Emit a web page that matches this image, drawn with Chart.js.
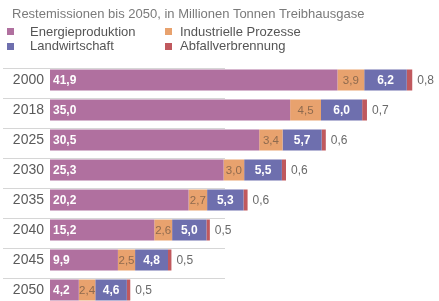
<!DOCTYPE html>
<html><head><meta charset="utf-8">
<script src="https://cdn.jsdelivr.net/npm/chart.js@4/dist/chart.umd.min.js"></script>
<style>
html,body{margin:0;padding:0;width:439px;height:301px;overflow:hidden;background:#fff;font-family:"Liberation Sans",Arial,sans-serif;}
#wrap{position:absolute;left:0;top:0;width:439px;height:310px;}
.t{position:absolute;font-size:13px;line-height:13px;white-space:nowrap;}
.sq{position:absolute;width:7px;height:7px;}
</style></head>
<body>
<div id="wrap"><canvas id="c" width="439" height="310" style="width:439px;height:310px;"></canvas></div>
<div class="t" style="left:12px;top:7px;color:#7a7a7a;">Restemissionen bis 2050, in Millionen Tonnen Treibhausgase</div>
<div id="legend"></div>
<script>
const categories = ["2000","2018","2025","2030","2035","2040","2045","2050"];
const energie = [41.9,35.0,30.5,25.3,20.2,15.2,9.9,4.2];
const industrie = [3.9,4.5,3.4,3.0,2.7,2.6,2.5,2.4];
const landwirtschaft = [6.2,6.0,5.7,5.5,5.3,5.0,4.8,4.6];
const abfall = [0.8,0.7,0.6,0.6,0.6,0.5,0.5,0.5];
const seriesNames = ["Energieproduktion","Industrielle Prozesse","Landwirtschaft","Abfallverbrennung"];
const colors = ["#b0709f","#e8a26e","#6e6fae","#c0595e"];

// legend (HTML)
const legendPos = [[7,28,30,25],[165,28,180,25],[7,43,30,39],[165,43,180,39]];
const lg = document.getElementById('legend');
[0,1,2,3].forEach((si,k)=>{
  const p = legendPos[k];
  const s = document.createElement('div'); s.className='sq';
  s.style.left=p[0]+'px'; s.style.top=p[1]+'px'; s.style.background=colors[si];
  lg.appendChild(s);
  const t = document.createElement('div'); t.className='t';
  t.style.left=p[2]+'px'; t.style.top=p[3]+'px'; t.style.color='#555';
  t.textContent = seriesNames[si];
  lg.appendChild(t);
});

const fmt = v => v.toFixed(1).replace('.', ',');

const sepPlugin = {
  id:'sep',
  beforeDatasetsDraw(chart){
    const ctx = chart.ctx, y = chart.scales.y;
    ctx.save();
    ctx.strokeStyle = '#d6d6d6'; ctx.lineWidth = 1;
    categories.forEach((c,i)=>{
      const py = Math.round(y.getPixelForValue(i) - 12.5) + 0.5;
      ctx.beginPath(); ctx.moveTo(3, py); ctx.lineTo(225, py); ctx.stroke();
    });
    ctx.restore();
  }
};

const labelPlugin = {
  id:'vlabels',
  afterDatasetsDraw(chart){
    const ctx = chart.ctx;
    ctx.save();
    ctx.textBaseline = 'middle';
    chart.data.datasets.forEach((ds,di)=>{
      const meta = chart.getDatasetMeta(di);
      meta.data.forEach((el,i)=>{
        const txt = fmt(ds.data[i]);
        const left = Math.min(el.x, el.base), right = Math.max(el.x, el.base);
        const cy = el.y + 0.5;
        if (di === 0) {
          ctx.font = 'bold 12px "Liberation Sans", Arial, sans-serif';
          ctx.fillStyle = '#ffffff'; ctx.textAlign = 'left';
          ctx.fillText(txt, left + 3, cy);
        } else if (di === 1) {
          ctx.font = '11.5px "Liberation Sans", Arial, sans-serif';
          ctx.fillStyle = '#8e6a4e'; ctx.textAlign = 'center';
          ctx.fillText(txt, (left+right)/2, cy);
        } else if (di === 2) {
          ctx.font = 'bold 12px "Liberation Sans", Arial, sans-serif';
          ctx.fillStyle = '#ffffff'; ctx.textAlign = 'center';
          ctx.fillText(txt, (left+right)/2, cy);
        } else {
          ctx.font = '12px "Liberation Sans", Arial, sans-serif';
          ctx.fillStyle = '#6a6a6a'; ctx.textAlign = 'left';
          ctx.fillText(txt, right + 5, cy);
        }
      });
    });
    ctx.restore();
  }
};

const seriesData = [energie, industrie, landwirtschaft, abfall];
new Chart(document.getElementById('c'), {
  type:'bar',
  data:{
    labels: categories,
    datasets: seriesData.map((d,i)=>({
      label: seriesNames[i], data: d, backgroundColor: colors[i],
      borderWidth: 0, categoryPercentage: 1.0, barPercentage: 0.7
    }))
  },
  options:{
    indexAxis:'y',
    responsive:false,
    animation:false,
    devicePixelRatio:1,
    layout:{padding:{top:65,bottom:5,left:0,right:0}},
    plugins:{legend:{display:false},title:{display:false},tooltip:{enabled:false}},
    scales:{
      x:{stacked:true,display:false,min:0,max:56.7},
      y:{stacked:true,
         grid:{display:false,drawTicks:false},
         border:{display:false},
         ticks:{color:'#5a5a5a',font:{family:'"Liberation Sans", Arial, sans-serif',size:14},padding:6},
         afterFit(s){ s.width = 50; s.paddingTop = 0; s.paddingBottom = 0; }
      }
    }
  },
  plugins:[sepPlugin,labelPlugin]
});
</script>
</body></html>
